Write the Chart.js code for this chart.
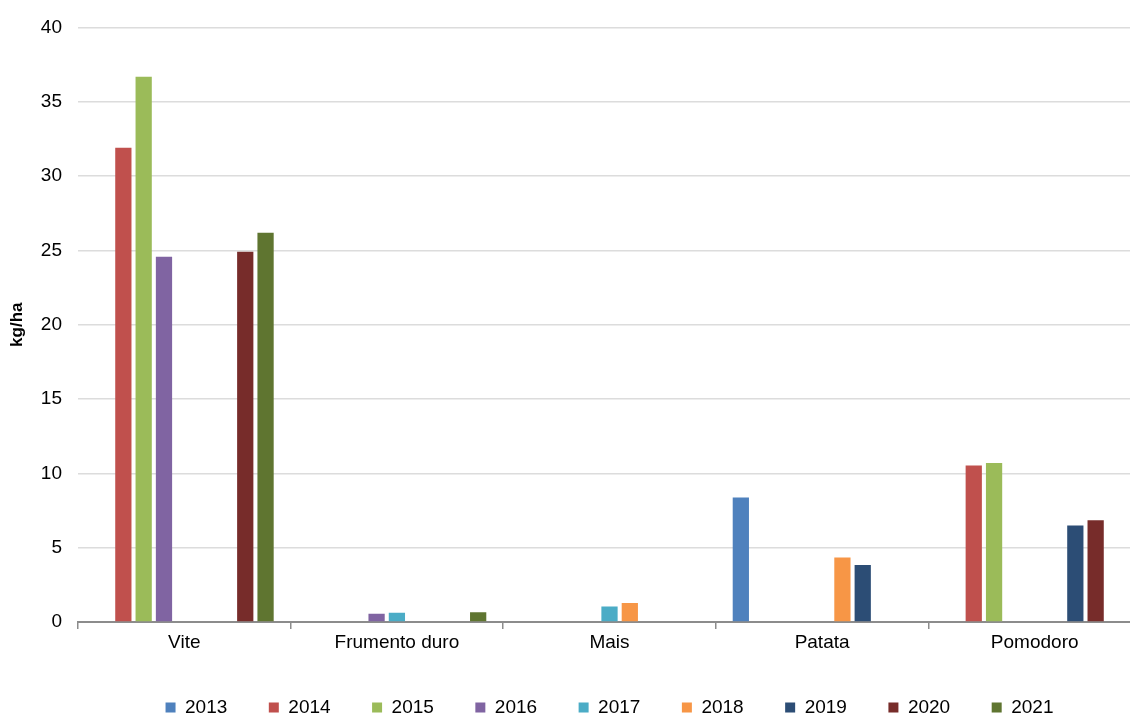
<!DOCTYPE html>
<html>
<head>
<meta charset="utf-8">
<script src="https://cdn.jsdelivr.net/npm/chart.js@4/dist/chart.umd.min.js"></script>
<style>
  html, body { margin: 0; padding: 0; background: #fff; overflow: hidden; }
  #wrap { width: 1141px; height: 727px; }
</style>
</head>
<body>
<div id="wrap"><canvas id="c" width="1141" height="727"></canvas></div>
<script>
const categories = ["Vite", "Frumento duro", "Mais", "Patata", "Pomodoro"];
const years = ["2013", "2014", "2015", "2016", "2017", "2018", "2019", "2020", "2021"];
const yearColors = ["#4F81BD", "#C0504D", "#9BBB59", "#8064A2", "#4BACC6", "#F79646", "#2C4D75", "#772C2A", "#5F7530"];
const yTicks = [0, 5, 10, 15, 20, 25, 30, 35, 40];

const v2013 = [null, null, null, 8.38, null];
const v2014 = [31.9, null, null, null, 10.52];
const v2015 = [36.68, null, null, null, 10.69];
const v2016 = [24.57, 0.56, null, null, null];
const v2017 = [null, 0.62, 1.05, null, null];
const v2018 = [null, null, 1.27, 4.34, null];
const v2019 = [null, null, null, 3.84, 6.5];
const v2020 = [24.9, null, null, null, 6.85];
const v2021 = [26.18, 0.65, null, null, null];
const seriesValues = [v2013, v2014, v2015, v2016, v2017, v2018, v2019, v2020, v2021];

const FONT = "'Liberation Sans', Arial, Helvetica, sans-serif";

const datasets = years.map((y, i) => ({
  label: y,
  data: seriesValues[i],
  backgroundColor: yearColors[i],
  borderWidth: 0,
  categoryPercentage: 0.86,
  barPercentage: 0.8
}));

new Chart(document.getElementById('c'), {
  type: 'bar',
  data: { labels: categories, datasets },
  options: {
    responsive: false,
    animation: false,
    layout: { padding: { top: 23, left: 0, right: 0, bottom: 0 } },
    plugins: {
      tooltip: { enabled: false },
      legend: {
        position: 'bottom',
        fullSize: false,
        labels: {
          boxWidth: 10,
          boxHeight: 10,
          padding: 41.5,
          color: '#000',
          font: { family: FONT, size: 19 }
        }
      }
    },
    scales: {
      x: {
        grid: {
          drawOnChartArea: false,
          drawTicks: true,
          tickLength: 7,
          color: '#8c8c8c',
          lineWidth: 1.5,
          offset: true
        },
        border: { display: true, color: '#8c8c8c', width: 2 },
        ticks: { color: '#000', font: { family: FONT, size: 19 }, padding: 2, maxRotation: 0 },
        afterFit(scale) { scale.height = 34.5; }
      },
      y: {
        min: 0,
        max: 40,
        afterBuildTicks(scale) { scale.ticks = yTicks.map(v => ({ value: v })); },
        grid: { color: '#dcdcdc', lineWidth: 1.5, drawTicks: false },
        border: { display: false },
        ticks: { color: '#000', font: { family: FONT, size: 19 }, padding: 16 },
        title: {
          display: true,
          text: 'kg/ha',
          color: '#000',
          font: { family: FONT, size: 17, weight: 'bold' },
          padding: { top: 7, bottom: 4 }
        },
        afterFit(scale) { scale.width = 78; }
      }
    }
  }
});
</script>
</body>
</html>
